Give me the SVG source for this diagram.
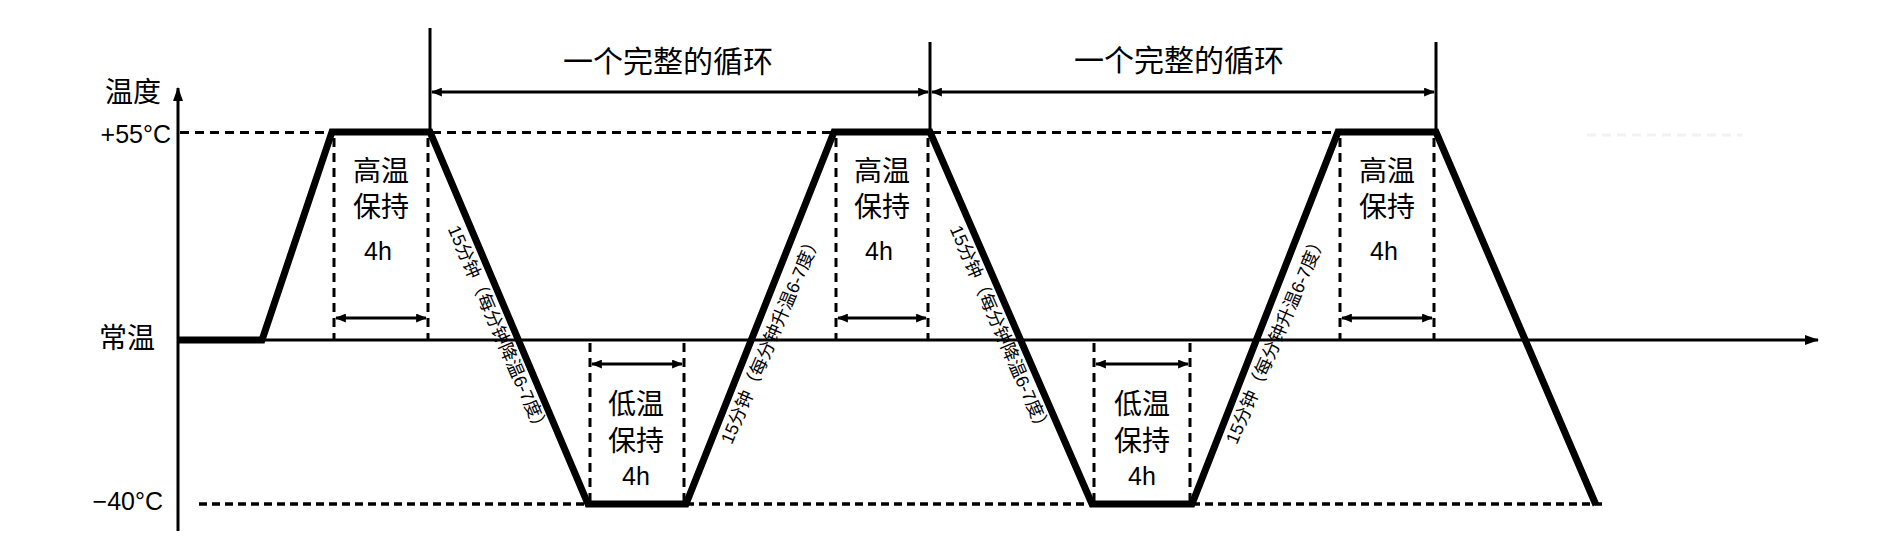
<svg xmlns="http://www.w3.org/2000/svg" width="1878" height="542" viewBox="0 0 1878 542">
<style>
text{font-family:"Liberation Sans","Noto Sans CJK SC",sans-serif;fill:#000}
.lbl{font-size:28px;text-anchor:middle}
.big{font-size:30px;text-anchor:middle}
.num{font-size:25px}
.mid{text-anchor:middle}
.rot{font-size:18px;text-anchor:middle;dominant-baseline:central}
.thin{stroke:#000;stroke-width:3;fill:none}
.dash{stroke:#000;stroke-width:3;fill:none;stroke-dasharray:9 6}
.dashb{stroke:#000;stroke-width:3.5;fill:none;stroke-dasharray:8 5}
.arr{stroke:#000;stroke-width:3;fill:none;marker-start:url(#ah);marker-end:url(#ah)}
.wave{stroke:#000;stroke-width:7;fill:none;stroke-linejoin:miter}
</style>
<defs>
<marker id="ah" viewBox="0 0 10 8" refX="9" refY="4" markerWidth="11" markerHeight="9" markerUnits="userSpaceOnUse" orient="auto-start-reverse">
<path d="M0,0 L10,4 L0,8 z" fill="#000"/>
</marker>
<marker id="axh" viewBox="0 0 14 10" refX="13" refY="5" markerWidth="14" markerHeight="10" markerUnits="userSpaceOnUse" orient="auto">
<path d="M0,0 L14,5 L0,10 z" fill="#000"/>
</marker>
</defs>
<rect width="1878" height="542" fill="#fff"/>

<g id="guides">
<line class="dash" x1="180" y1="132.5" x2="332" y2="132.5"/>
<line class="dash" x1="432" y1="132.5" x2="834" y2="132.5"/>
<line class="dash" x1="932" y1="132.5" x2="1338" y2="132.5"/>
<line x1="1587" y1="135" x2="1742" y2="135" stroke="#f2f2f2" stroke-width="3" stroke-dasharray="9 6"/>
<line class="dashb" x1="199" y1="504" x2="588" y2="504"/>
<line class="dashb" x1="686" y1="504" x2="1092" y2="504"/>
<line class="dashb" x1="1192" y1="504" x2="1602" y2="504"/>
</g>

<g id="axes">
<line class="thin" x1="178" y1="531" x2="178" y2="88" marker-end="url(#axh)"/>
<line class="thin" x1="178" y1="340" x2="1818" y2="340" marker-end="url(#axh)"/>
<text class="lbl" x="133" y="102">温度</text>
<text class="num" x="171" y="143" text-anchor="end">+55°C</text>
<text class="lbl" x="127" y="348">常温</text>
<text class="num" x="163" y="510" text-anchor="end">−40°C</text>
</g>

<g id="waveform">
<polyline class="wave" points="178,340 262,340 332,132 430,132 588,504 686,504 834,132 930,132 1092,504 1192,504 1338,132 1436,132 1596,505"/>
</g>

<g id="cycle-1">
<line class="thin" x1="430" y1="28" x2="430" y2="132"/>
<text class="big" x="668" y="72">一个完整的循环</text>
</g>
<g id="cycle-2">
<line class="thin" x1="930" y1="42" x2="930" y2="132"/>
<line class="thin" x1="1436" y1="42" x2="1436" y2="132"/>
<text class="big" x="1179" y="71">一个完整的循环</text>
</g>

<g id="high-hold-1">
<line class="dash" x1="334" y1="138" x2="334" y2="340"/>
<line class="dash" x1="428" y1="138" x2="428" y2="340"/>
<text class="lbl" x="381" y="181">高温</text>
<text class="lbl" x="381" y="217">保持</text>
<text class="num mid" x="378" y="260">4h</text>
</g>
<g id="high-hold-2">
<line class="dash" x1="836" y1="138" x2="836" y2="340"/>
<line class="dash" x1="928" y1="138" x2="928" y2="340"/>
<text class="lbl" x="882" y="181">高温</text>
<text class="lbl" x="882" y="217">保持</text>
<text class="num mid" x="879" y="260">4h</text>
</g>
<g id="high-hold-3">
<line class="dash" x1="1340" y1="138" x2="1340" y2="340"/>
<line class="dash" x1="1434" y1="138" x2="1434" y2="340"/>
<text class="lbl" x="1387" y="181">高温</text>
<text class="lbl" x="1387" y="217">保持</text>
<text class="num mid" x="1384" y="260">4h</text>
</g>

<g id="low-hold-1">
<line class="dash" x1="590" y1="343" x2="590" y2="502"/>
<line class="dash" x1="684" y1="343" x2="684" y2="502"/>
<text class="lbl" x="636" y="414">低温</text>
<text class="lbl" x="636" y="451">保持</text>
<text class="num mid" x="636" y="485">4h</text>
</g>
<g id="low-hold-2">
<line class="dash" x1="1094" y1="343" x2="1094" y2="502"/>
<line class="dash" x1="1190" y1="343" x2="1190" y2="502"/>
<text class="lbl" x="1142" y="414">低温</text>
<text class="lbl" x="1142" y="451">保持</text>
<text class="num mid" x="1142" y="485">4h</text>
</g>

<g id="ramp-labels">
<text class="rot" transform="translate(498,330) rotate(66.5)">15分钟（每分钟降温6-7度）</text>
<text class="rot" transform="translate(1000,330) rotate(66.5)">15分钟（每分钟降温6-7度）</text>
<text class="rot" transform="translate(771,339) rotate(-66.7)">15分钟（每分钟升温6-7度）</text>
<text class="rot" transform="translate(1276,339) rotate(-66.7)">15分钟（每分钟升温6-7度）</text>
</g>

<g id="connectors">
<line class="arr" x1="432" y1="92" x2="928" y2="92"/>
<line class="arr" x1="932" y1="92" x2="1434" y2="92"/>
<line class="arr" x1="336" y1="318" x2="426" y2="318"/>
<line class="arr" x1="838" y1="318" x2="926" y2="318"/>
<line class="arr" x1="1342" y1="318" x2="1432" y2="318"/>
<line class="arr" x1="592" y1="364" x2="682" y2="364"/>
<line class="arr" x1="1096" y1="364" x2="1188" y2="364"/>
</g>
</svg>
